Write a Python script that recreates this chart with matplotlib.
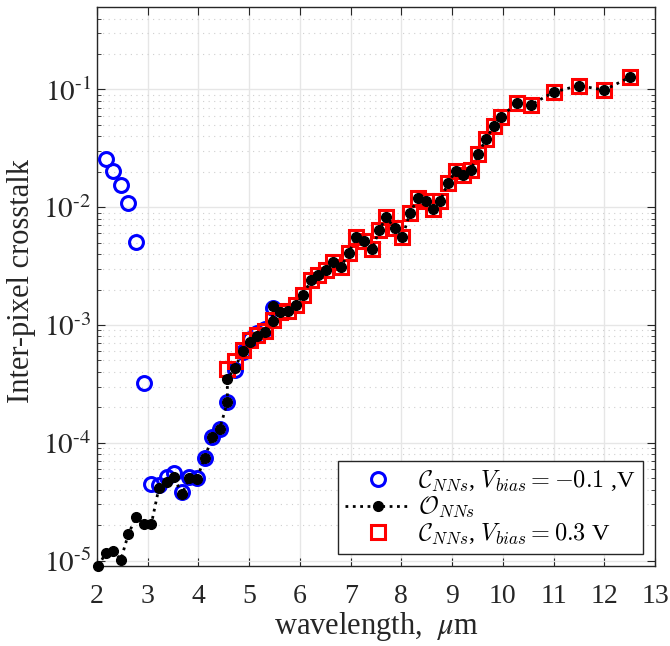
import matplotlib
matplotlib.use("Agg")
import matplotlib.pyplot as plt
from matplotlib.ticker import LogLocator, NullFormatter, MultipleLocator, FuncFormatter
import numpy as np

plt.rcParams['font.family'] = ['Liberation Serif', 'DejaVu Serif']
plt.rcParams['mathtext.fontset'] = 'stix'

# C_NNs, Vbias = -0.1 V
wl_neg = [2.17, 2.32, 2.47, 2.62, 2.77, 2.92, 3.07, 3.22, 3.37, 3.52, 3.67, 3.82,
          3.97, 4.12, 4.27, 4.42, 4.57, 4.72, 4.87, 5.02, 5.16, 5.31, 5.46]
ct_neg = [0.0258, 0.0204, 0.01556, 0.01087, 5.04e-3, 3.2e-4, 4.46e-5, 4.38e-5,
          5.08e-5, 5.57e-5, 3.8e-5, 5.08e-5, 4.99e-5, 7.5e-5, 1.11e-4, 1.32e-4,
          2.21e-4, 4.16e-4, 5.85e-4, 7.6e-4, 8.5e-4, 9.3e-4, 1.39e-3]

# C_NNs, Vbias = 0.3 V
wl_pos = [4.57, 4.72, 4.87, 5.02, 5.16, 5.31, 5.46, 5.61, 5.76, 5.92, 6.07, 6.22,
          6.36, 6.51, 6.66, 6.81, 6.96, 7.11, 7.27, 7.43, 7.56, 7.70, 7.87, 8.02,
          8.17, 8.33, 8.48, 8.62, 8.77, 8.92, 9.07, 9.21, 9.37, 9.52, 9.67, 9.82,
          9.96, 10.27, 10.56, 11.0, 11.5, 12.0, 12.5]
ct_pos = [4.2e-4, 4.99e-4, 6.15e-4, 7.4e-4, 8.3e-4, 8.9e-4, 1.1e-3, 1.30e-3,
          1.31e-3, 1.49e-3, 1.81e-3, 2.42e-3, 2.64e-3, 2.91e-3, 3.40e-3, 3.11e-3,
          4.08e-3, 5.59e-3, 5.13e-3, 4.44e-3, 6.37e-3, 8.2e-3, 6.67e-3, 5.59e-3,
          8.93e-3, 0.0120, 0.01138, 9.73e-3, 0.01138, 0.0161, 0.0202, 0.0186,
          0.0209, 0.02857, 0.0381, 0.0488, 0.0586, 0.0760, 0.0745, 0.0948,
          0.108, 0.0986, 0.127]

# O_NNs
wl_opt = [2.02, 2.17, 2.32, 2.47, 2.62, 2.77, 2.92, 3.07, 3.22, 3.37, 3.52, 3.67,
          3.82, 3.97, 4.12, 4.27, 4.42, 4.57, 4.57, 4.72, 4.87, 5.02, 5.16, 5.31,
          5.46, 5.46, 5.61, 5.76, 5.92, 6.07, 6.22, 6.36, 6.51, 6.66, 6.81, 6.96,
          7.11, 7.27, 7.43, 7.56, 7.70, 7.87, 8.02, 8.17, 8.33, 8.48, 8.62, 8.77,
          8.92, 9.07, 9.21, 9.37, 9.52, 9.67, 9.82, 9.96, 10.27, 10.56, 11.0,
          11.5, 12.0, 12.5]
ct_opt = [9.0e-6, 1.15e-5, 1.21e-5, 1.02e-5, 1.69e-5, 2.34e-5, 2.04e-5, 2.04e-5,
          4.13e-5, 4.67e-5, 5.15e-5, 3.65e-5, 4.99e-5, 4.95e-5, 7.46e-5, 1.11e-4,
          1.32e-4, 2.21e-4, 3.49e-4, 4.3e-4, 6.0e-4, 7.2e-4, 8.15e-4, 8.7e-4,
          1.09e-3, 1.44e-3, 1.30e-3, 1.31e-3, 1.49e-3, 1.81e-3, 2.42e-3, 2.64e-3,
          2.91e-3, 3.40e-3, 3.11e-3, 4.08e-3, 5.59e-3, 5.13e-3, 4.44e-3, 6.37e-3,
          8.2e-3, 6.67e-3, 5.59e-3, 8.93e-3, 0.0120, 0.01138, 9.73e-3, 0.01138,
          0.0161, 0.0202, 0.0186, 0.0209, 0.02857, 0.0381, 0.0488, 0.0586, 0.0760,
          0.0745, 0.0948, 0.108, 0.0986, 0.127]

fig = plt.figure(figsize=(6.7, 6.46), dpi=100)
ax = fig.add_axes([0.1448, 0.1238, 0.8328, 0.8652])

ax.semilogy(wl_neg, ct_neg, 'o', mfc='none', mec='blue', ms=10, mew=2.2,
            zorder=3, clip_on=False,
            label=r'$\mathcal{C}_{NNs}$, $V_{bias}=-0.1$ ,V')
ax.semilogy(wl_opt, ct_opt, ':', color='black', marker='o', ms=7, lw=2,
            zorder=5, clip_on=False, label=r'$\mathcal{O}_{NNs}$')
ax.semilogy(wl_pos, ct_pos, 's', mfc='none', mec='red', ms=10, mew=2.2,
            zorder=4, clip_on=False,
            label=r'$\mathcal{C}_{NNs}$, $V_{bias}=0.3$ V')

ax.set_xlim(2, 13)
ax.set_ylim(9e-6, 0.5)
ax.xaxis.set_major_locator(MultipleLocator(1))
ax.yaxis.set_major_locator(LogLocator(base=10, numticks=10))
ax.yaxis.set_minor_locator(LogLocator(base=10, subs=range(2, 10), numticks=20))
ax.yaxis.set_minor_formatter(NullFormatter())
# MATLAB style exponent with a short hyphen
ax.yaxis.set_major_formatter(FuncFormatter(
    lambda v, p: r'$10^{\text{-}%d}$' % round(-np.log10(v))))

ax.grid(True, which='major', color='#e6e6e6', lw=1, ls='-')
ax.grid(True, which='minor', axis='y', color='#cfcfcf', lw=0.8, ls=(0, (1, 4)))
ax.set_axisbelow(True)

ax.tick_params(which='both', direction='in', top=True, right=True,
               colors='#262626', labelcolor='#262626')
ax.tick_params(which='major', labelsize=20, length=6)
ax.tick_params(which='minor', length=3)
ax.tick_params(axis='x', which='major', pad=13)
ax.tick_params(axis='y', which='major', pad=4, labelsize=21)
for s in ax.spines.values():
    s.set_color('#262626')
    s.set_linewidth(1)

ax.set_xlabel(r'wavelength,  $\mu$m', fontsize=22, color='#262626', va='center')
ax.set_ylabel('Inter-pixel crosstalk', fontsize=22, color='#262626', va='center')
ax.xaxis.set_label_coords(0.5, -0.108)
ax.yaxis.set_label_coords(-0.136, 0.51)

leg = ax.legend(loc='lower right', fontsize=17.5, fancybox=False, framealpha=1,
                edgecolor='#262626', handlelength=2.7, borderpad=0.3,
                labelspacing=0.05, handletextpad=0.3, borderaxespad=0.5)
leg.get_frame().set_linewidth(1)
for t in leg.get_texts():
    t.set_math_fontfamily('cm')

fig.savefig('out.png', dpi=100)
